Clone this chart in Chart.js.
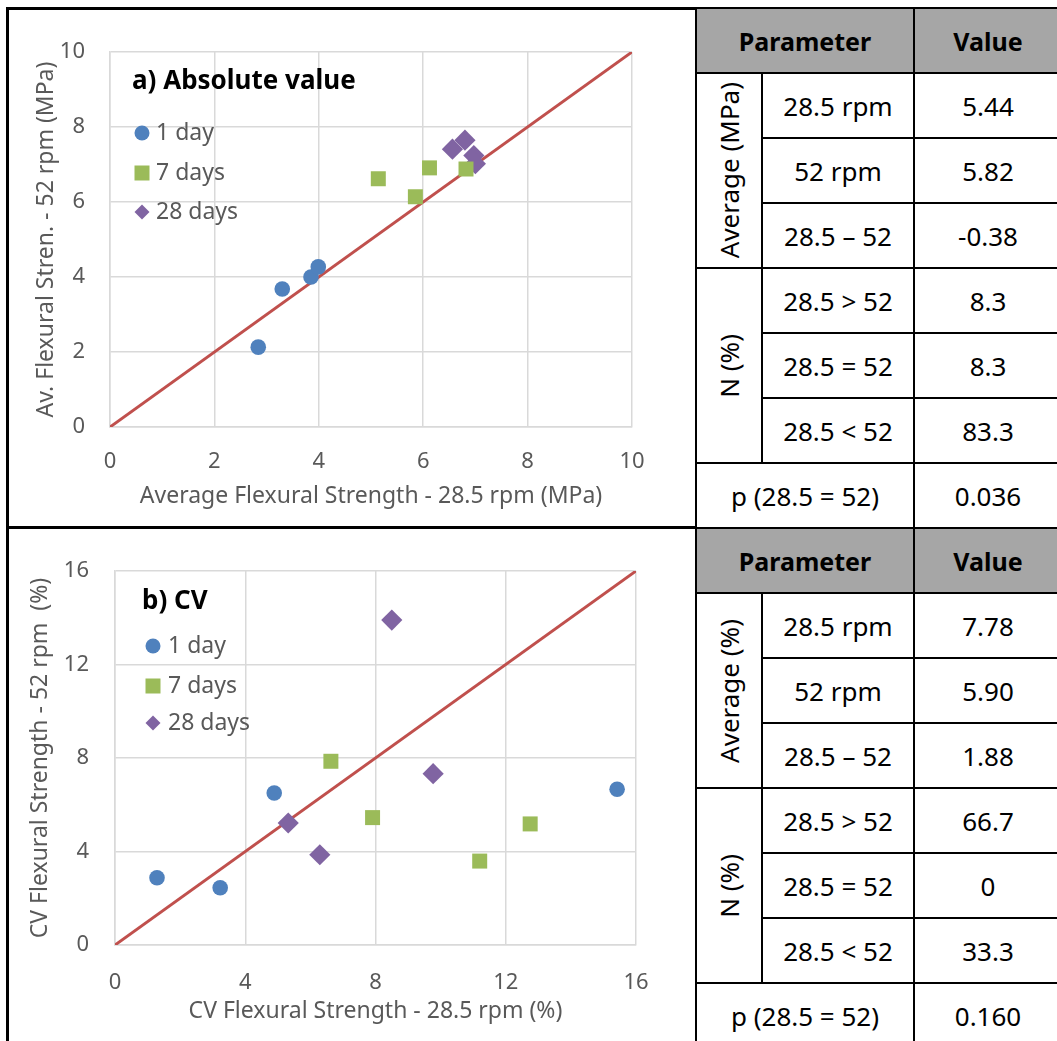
<!DOCTYPE html>
<html>
<head>
<meta charset="utf-8">
<script src="https://cdn.jsdelivr.net/npm/chart.js@4.4.0/dist/chart.umd.min.js"></script>
<style>
  body { margin:0; background:#fff; width:1057px; height:1041px; overflow:hidden; position:relative; font-family:'Noto Sans', sans-serif; }
  #frame { position:absolute; left:6px; top:7px; width:1100px; height:1100px; border:3px solid #000; box-sizing:border-box; }
  #divider { position:absolute; left:6px; top:526px; width:692px; height:3px; background:#000; }
  canvas { position:absolute; }
  .tbl { position:absolute; left:695px; display:grid; background:#000; padding:2px; gap:2px;
         grid-template-columns:64px 150px 146px; grid-template-rows:repeat(8,63px); }
  .tbl div { background:#fff; display:flex; align-items:center; justify-content:center; font-size:26px; color:#000; white-space:nowrap; }
  .tbl .hd { background:#a6a6a6; font-weight:bold; font-size:25px; }
  .tbl .grp span { writing-mode:vertical-rl; transform:rotate(180deg); }
</style>
</head>
<body>
<div id="frame"></div>
<canvas id="chartA" width="688" height="517" style="left:8px;top:9px"></canvas>
<canvas id="chartB" width="688" height="513" style="left:8px;top:528px"></canvas>
<div id="divider"></div>
<div class="tbl" id="tableA" style="top:7px"></div>
<div class="tbl" id="tableB" style="top:527px"></div>
<script>
// a) Absolute value (MPa)
const absDay1X = [2.84, 3.30, 3.85, 3.99];
const absDay1Y = [2.13, 3.68, 4.00, 4.27];
const absDay7X = [5.14, 5.85, 6.12, 6.82];
const absDay7Y = [6.62, 6.14, 6.91, 6.88];
const absDay28X = [6.56, 6.80, 6.97, 7.00];
const absDay28Y = [7.41, 7.65, 7.24, 7.02];
const absLine = [0, 10];

// b) CV (%)
const cvDay1X = [1.29, 3.23, 4.89, 15.42];
const cvDay1Y = [2.88, 2.45, 6.50, 6.66];
const cvDay7X = [6.63, 7.91, 11.20, 12.75];
const cvDay7Y = [7.86, 5.45, 3.59, 5.18];
const cvDay28X = [8.50, 9.77, 5.32, 6.29];
const cvDay28Y = [13.90, 7.33, 5.22, 3.86];
const cvLine = [0, 16];

const seriesLabels = ['1 day', '7 days', '28 days'];

// table text
const rowLabels = ['28.5 rpm', '52 rpm', '28.5 \u2013 52', '28.5 > 52', '28.5 = 52', '28.5 < 52'];
const tableAValues = ['5.44', '5.82', '-0.38', '8.3', '8.3', '83.3', '0.036'];
const tableBValues = ['7.78', '5.90', '1.88', '66.7', '0', '33.3', '0.160'];

const BLUE = '#4f81bd', GREEN = '#9bbb59', PURPLE = '#8064a2', RED = '#c0504d';
const GRAY_TXT = '#595959', GRID = '#d9d9d9';
const FONT = "'Noto Sans', sans-serif";

const pts = (xs, ys) => xs.map((x, i) => ({ x: x, y: ys[i] }));

function drawMarker(ctx, style, x, y) {
  ctx.beginPath();
  if (style === 'circle') {
    ctx.arc(x, y, 7.5, 0, Math.PI * 2);
  } else if (style === 'rect') {
    ctx.rect(x - 7.5, y - 7.5, 15, 15);
  } else {
    ctx.moveTo(x - 7.5, y); ctx.lineTo(x, y - 7.5); ctx.lineTo(x + 7.5, y); ctx.lineTo(x, y + 7.5); ctx.closePath();
  }
  ctx.fill();
}

// title + legend sit inside the plot area, like the Excel original
const insideLegend = {
  id: 'insideLegend',
  afterDatasetsDraw(chart, args, opts) {
    const { ctx, chartArea } = chart;
    ctx.save();
    ctx.textBaseline = 'middle';
    ctx.textAlign = 'left';
    ctx.font = 'bold 26px ' + FONT;
    ctx.fillStyle = '#000';
    ctx.fillText(opts.title, chartArea.left + opts.titleX, chartArea.top + opts.titleY);
    ctx.font = '23px ' + FONT;
    chart.data.datasets.forEach((ds, i) => {
      if (!ds.label) return;
      const y = chartArea.top + opts.rowY[i];
      ctx.fillStyle = ds.backgroundColor;
      drawMarker(ctx, ds.pointStyle, chartArea.left + opts.markX, y);
      ctx.fillStyle = GRAY_TXT;
      ctx.fillText(ds.label, chartArea.left + opts.textX, y);
    });
    ctx.restore();
  }
};

function makeChart(id, c) {
  const series = [
    { label: seriesLabels[0], data: pts(c.x1, c.y1), pointStyle: 'circle', pointRadius: 7.8, backgroundColor: BLUE, borderColor: BLUE },
    { label: seriesLabels[1], data: pts(c.x7, c.y7), pointStyle: 'rect', pointRadius: 10.6, backgroundColor: GREEN, borderColor: GREEN },
    { label: seriesLabels[2], data: pts(c.x28, c.y28), pointStyle: 'rectRot', pointRadius: 10.6, backgroundColor: PURPLE, borderColor: PURPLE },
    { label: '', data: pts(c.line, c.line), showLine: true, borderColor: RED, borderWidth: 3, pointRadius: 0, backgroundColor: RED }
  ];
  series.forEach(s => { s.pointHoverRadius = s.pointRadius; s.borderWidth = s.borderWidth || 0; });

  const axis = (max, extra) => Object.assign({
    type: 'linear', min: 0, max: max,
    grid: { color: GRID, lineWidth: 1.5, drawTicks: false },
    border: { color: GRID, width: 1.5 },
  }, extra);

  return new Chart(document.getElementById(id), {
    type: 'scatter',
    data: { datasets: series },
    options: {
      responsive: false,
      animation: false,
      events: [],
      layout: { padding: { left: 0, top: 43, right: c.padRight, bottom: 0 } },
      plugins: {
        legend: { display: false },
        tooltip: { enabled: false },
        insideLegend: c.legend
      },
      scales: {
        x: axis(c.line[1], {
          ticks: { stepSize: c.step, color: GRAY_TXT, font: { family: FONT, size: 22 }, padding: c.xTickPad },
          title: { display: true, text: c.xTitle, color: GRAY_TXT, font: { family: FONT, size: 23 }, padding: { top: 0, bottom: 16 } },
          afterFit: s => { s.height = c.xHeight; }
        }),
        y: axis(c.line[1], {
          ticks: { stepSize: c.step, color: GRAY_TXT, font: { family: FONT, size: 22 }, padding: c.yTickPad },
          title: { display: true, text: c.yTitle, color: GRAY_TXT, font: { family: FONT, size: 23 }, padding: { top: c.yTitlePad, bottom: 0 } },
          afterFit: s => { s.width = c.yWidth; }
        })
      }
    },
    plugins: [insideLegend]
  });
}

makeChart('chartA', {
  x1: absDay1X, y1: absDay1Y, x7: absDay7X, y7: absDay7Y, x28: absDay28X, y28: absDay28Y,
  line: absLine, step: 2,
  xTitle: 'Average Flexural Strength - 28.5 rpm (MPa)',
  yTitle: 'Av. Flexural Stren. - 52 rpm (MPa)',
  yWidth: 102, xHeight: 99, padRight: 64,
  xTickPad: 22, yTickPad: 25, yTitlePad: 25,
  legend: { title: 'a) Absolute value', titleX: 22, titleY: 30, markX: 32, textX: 46, rowY: [81, 121, 160] }
});

makeChart('chartB', {
  x1: cvDay1X, y1: cvDay1Y, x7: cvDay7X, y7: cvDay7Y, x28: cvDay28X, y28: cvDay28Y,
  line: cvLine, step: 4,
  xTitle: 'CV Flexural Strength - 28.5 rpm (%)',
  yTitle: 'CV Flexural Strength - 52 rpm  (%)',
  yWidth: 107, xHeight: 96, padRight: 60,
  xTickPad: 25, yTickPad: 26, yTitlePad: 19,
  legend: { title: 'b) CV', titleX: 27, titleY: 31, markX: 38, textX: 53, rowY: [75, 115, 152] }
});

function buildTable(id, groupTop, values) {
  const el = document.getElementById(id);
  const cell = (text, cls, area) => {
    const d = document.createElement('div');
    if (cls) d.className = cls;
    d.style.gridArea = area;
    if (cls === 'grp') {
      const s = document.createElement('span');
      s.textContent = text;
      d.appendChild(s);
    } else {
      d.textContent = text;
    }
    el.appendChild(d);
  };
  cell('Parameter', 'hd', '1 / 1 / 2 / 3');
  cell('Value', 'hd', '1 / 3 / 2 / 4');
  cell(groupTop, 'grp', '2 / 1 / 5 / 2');
  cell('N (%)', 'grp', '5 / 1 / 8 / 2');
  rowLabels.forEach((lab, i) => {
    cell(lab, '', (i + 2) + ' / 2 / ' + (i + 3) + ' / 3');
    cell(values[i], '', (i + 2) + ' / 3 / ' + (i + 3) + ' / 4');
  });
  cell('p (28.5 = 52)', '', '8 / 1 / 9 / 3');
  cell(values[6], '', '8 / 3 / 9 / 4');
}

buildTable('tableA', 'Average (MPa)', tableAValues);
buildTable('tableB', 'Average (%)', tableBValues);
</script>
</body>
</html>
